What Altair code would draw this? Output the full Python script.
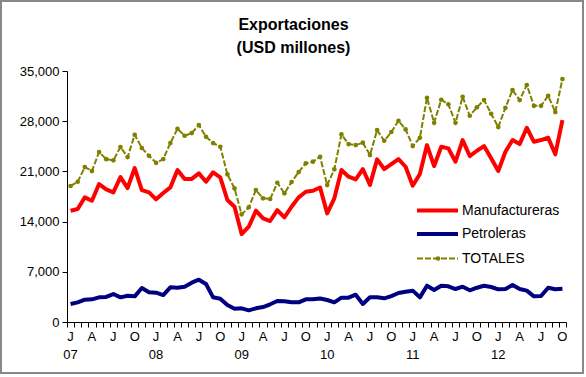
import altair as alt
import pandas as pd

manuf = [15520, 15750, 17380, 16910, 19240, 18500, 18080, 20210, 18680, 21470,
         18400, 18080, 17100, 17980, 18770, 21190, 19930, 19950, 20730, 19560,
         20870, 20170, 17010, 16070, 12270, 13290, 15520, 14450, 14080, 15610,
         14590, 16070, 17380, 18160, 18300, 18760, 15150, 17240, 21190, 20260,
         19890, 21330, 19100, 22680, 21330, 22030, 22720, 21650, 19000, 20630,
         24670, 21750, 24440, 24210, 22350, 25370, 23140, 23880, 24530, 22820,
         21050, 23740, 25370, 24810, 27090, 25130, 25370, 25690, 23380, 28160]
petro = [2510, 2740, 3110, 3160, 3440, 3490, 3900, 3440, 3670, 3580,
         4740, 4140, 4090, 3760, 4840, 4780, 4920, 5480, 5900, 5300,
         3440, 3250, 2370, 1850, 1910, 1630, 1910, 2090, 2470, 2930,
         2880, 2740, 2740, 3160, 3160, 3280, 3070, 2740, 3390, 3390,
         3810, 2510, 3440, 3440, 3300, 3620, 4040, 4230, 4370, 3440,
         5060, 4460, 5060, 4970, 4600, 4920, 4420, 4780, 5060, 4880,
         4560, 4600, 5160, 4600, 4370, 3580, 3620, 4780, 4560, 4640]
totals = [18960, 19560, 21600, 21050, 23700, 22700, 22540, 24400, 23000, 26100,
          24260, 23180, 22200, 22720, 24950, 26950, 25970, 26350, 27460, 25830,
          24950, 24440, 20590, 18630, 15010, 15990, 18400, 17240, 17150, 19420,
          17940, 19520, 20910, 22120, 22350, 23040, 19100, 21290, 26160, 24810,
          24670, 25000, 23280, 26760, 25270, 26490, 28060, 26860, 24530, 25690,
          31270, 27780, 30990, 30350, 27780, 31410, 28760, 29930, 30950, 29040,
          27180, 29870, 32340, 30950, 33040, 30150, 30150, 31550, 29270, 33870]

month_letters = ["J", "A", "J", "O"]
years = ["07", "08", "09", "10", "11", "12"]
series_names = ["Manufactureras", "Petroleras", "TOTALES"]
title_lines = ["Exportaciones", "(USD millones)"]
y_ticks = [0, 7000, 14000, 21000, 28000, 35000]

n = len(manuf)
df = pd.DataFrame({"i": list(range(n)), "m": manuf, "p": petro, "t": totals})
mpos = list(range(0, n, 3))
mdf = pd.DataFrame({"i": mpos, "lab": [month_letters[k % 4] for k in range(len(mpos))]})
ydf = pd.DataFrame({"i": [12 * k for k in range(len(years))], "lab": years})
one = pd.DataFrame({"i": [0], "m": [0]})

W, H = 499, 251
FONT = "Liberation Sans"
RED, NAVY, OLIVE = "#FF0000", "#000080", "#808000"

xs = alt.Scale(domain=[-0.5, n - 0.5], nice=False, zero=False)
ys = alt.Scale(domain=[0, 35000], nice=False)

x_axis = alt.Axis(values=[k - 0.5 for k in range(n + 1)], labels=False, title=None,
                  grid=False, tickSize=5, domainColor="black", tickColor="black")
y_axis = alt.Axis(values=y_ticks, labelExpr="format(datum.value, ',.0f')", title=None,
                  grid=False, tickSize=5,
                  domainColor="black", tickColor="black", labelFont=FONT,
                  labelFontSize=13, labelColor="black", labelPadding=3)


def X():
    return alt.X("i:Q", scale=xs, axis=x_axis)


def Y(field):
    return alt.Y(field, scale=ys, axis=y_axis)


base = alt.Chart(df)
manuf_line = base.mark_line(color=RED, strokeWidth=4, strokeJoin="round").encode(
    x=X(), y=Y("m:Q"))
petro_line = base.mark_line(color=NAVY, strokeWidth=4, strokeJoin="round").encode(
    x=X(), y=Y("p:Q"))
tot_line = base.mark_line(color=OLIVE, strokeWidth=2, strokeDash=[6, 2]).encode(
    x=X(), y=Y("t:Q"))
tot_pts = base.mark_circle(color=OLIVE, size=22, opacity=1).encode(
    x=X(), y=Y("t:Q"))

month_txt = alt.Chart(mdf).mark_text(font=FONT, fontSize=13, baseline="middle",
                                     color="black").encode(
    x=X(), y=alt.value(H + 15), text="lab:N")
year_txt = alt.Chart(ydf).mark_text(font=FONT, fontSize=13, baseline="middle",
                                    color="black").encode(
    x=X(), y=alt.value(H + 33), text="lab:N")

leg_y = [139.5, 163, 187.5]
leg_colors = [RED, NAVY, OLIVE]
legend_layers = []
for k, name in enumerate(series_names):
    ldf = pd.DataFrame({"name": [name]})
    if k < 2:
        legend_layers.append(alt.Chart(ldf).mark_rule(color=leg_colors[k], strokeWidth=4).encode(
            x=alt.value(350), x2=alt.value(391), y=alt.value(leg_y[k])))
    else:
        legend_layers.append(alt.Chart(ldf).mark_rule(color=OLIVE, strokeWidth=2, strokeDash=[6, 2]).encode(
            x=alt.value(350), x2=alt.value(391), y=alt.value(leg_y[k])))
        legend_layers.append(alt.Chart(ldf).mark_circle(color=OLIVE, size=22, opacity=1).encode(
            x=alt.value(371), y=alt.value(leg_y[k])))
    legend_layers.append(alt.Chart(ldf).mark_text(font=FONT, fontSize=14, align="left",
                                                  baseline="middle", color="black").encode(
        x=alt.value(395), y=alt.value(leg_y[k]), text="name:N"))

title_layers = []
for k, line in enumerate(title_lines):
    title_layers.append(alt.Chart(pd.DataFrame({"lab": [line]})).mark_text(
        font=FONT, fontSize=16, fontWeight="bold", align="center", baseline="middle",
        color="black").encode(x=alt.value(226.5), y=alt.value(-46 + 23 * k), text="lab:N"))

frame = alt.Chart(one).mark_rect(fill=None, stroke="#888888", strokeWidth=2).encode(
    x=alt.value(-66), x2=alt.value(516), y=alt.value(-70), y2=alt.value(302))

chart = alt.layer(frame, tot_line, tot_pts, petro_line, manuf_line, month_txt, year_txt,
                  *legend_layers, *title_layers).properties(
    width=W, height=H,
    background="white",
    autosize=alt.AutoSizeParams(type="none"),
    padding={"left": 67, "top": 71, "right": 20, "bottom": 55},
).configure_view(stroke=None)

chart.save("out.html", embed_options={"renderer": "svg", "actions": False})
